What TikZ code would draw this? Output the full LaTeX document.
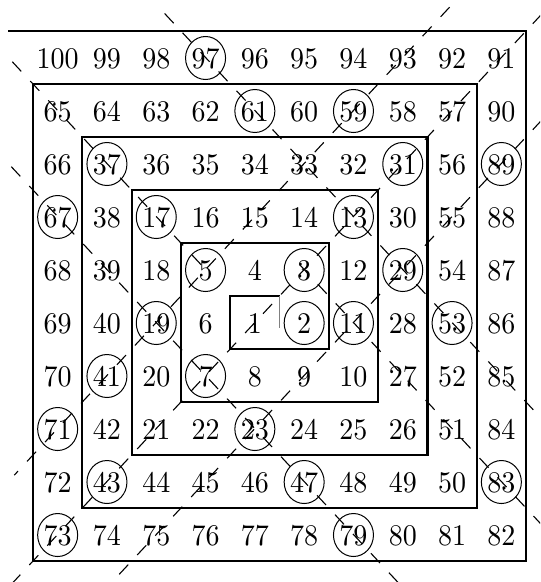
\documentclass[tikz,border=0pt]{standalone}
\usetikzlibrary{shapes.geometric}
\font\bignum=cmr10 at 28pt
\begin{document}
\begin{tikzpicture}[x=49.3pt,y=-53pt,
  num/.style={inner sep=0pt, font=\bignum, yshift=-1.5pt},
  pcirc/.style={draw, ellipse, inner sep=0pt, minimum width=40pt, minimum height=43pt, line width=1pt},
  spiral/.style={line width=2.2pt, line join=miter},
  spiralthin/.style={line width=1.3pt},
  spiralend/.style={line width=0.7pt, gray},
  diag/.style={line width=1.1pt, dash pattern=on 13.2pt off 13.2pt}]
\useasboundingbox (-1.1694,-1.0849) rectangle (9.784,9.896);
\clip (-1.1694,-1.0849) rectangle (9.784,9.896);
% numbers
\foreach \row [count=\r from 0] in {
  {100,99,98,97,96,95,94,93,92,91},
  {65,64,63,62,61,60,59,58,57,90},
  {66,37,36,35,34,33,32,31,56,89},
  {67,38,17,16,15,14,13,30,55,88},
  {68,39,18,5,4,3,12,29,54,87},
  {69,40,19,6,1,2,11,28,53,86},
  {70,41,20,7,8,9,10,27,52,85},
  {71,42,21,22,23,24,25,26,51,84},
  {72,43,44,45,46,47,48,49,50,83},
  {73,74,75,76,77,78,79,80,81,82}} {
  \foreach \n [count=\c from 0] in \row {
    \node[num] (n\n) at (\c,\r) {\scalebox{1}[1.07]{\n}};
  }
}
% prime circles
\foreach \p in {2,3,5,7,11,13,17,19,23,29,31,37,41,43,47,53,59,61,67,71,73,79,83,89,97} {
  \node[pcirc] (c\p) at ([yshift=1pt]n\p.center) {};
}
% spiral
\draw[spiralthin] (-1.0,-0.5) -- (-0.5,-0.5);
\draw[spiral] (-0.5,-0.5) -- (9.5,-0.5) -- (9.5,9.5) -- (-0.5,9.5) -- (-0.5,0.5)
  -- (8.5,0.5) -- (8.5,8.5) -- (0.5,8.5) -- (0.5,1.5) -- (7.5,1.5) -- (7.5,7.5)
  -- (1.5,7.5) -- (1.5,2.5) -- (6.5,2.5) -- (6.5,6.5) -- (2.5,6.5) -- (2.5,3.5)
  -- (5.5,3.5) -- (5.5,5.5) -- (3.5,5.5) -- (3.5,4.5) -- (4.5,4.5);
\draw[spiralend] (4.5,4.5) -- (4.5,5.1);
% diagonals
\draw[diag] (2.17,-0.83) -- (10.6,7.6);
\draw[diag] (-0.92,0.08) -- (2.95,3.95);
\draw[diag] (-0.94,2.06) -- (7.6,10.6);
\draw[diag] (4.91,3.91) -- (10.6,9.6);
\draw[diag] (7.95,-0.95) -- (-0.88,7.88);
\draw[diag] (9.82,-0.82) -- (-1.6,10.6);
\draw[diag] (9.82,1.18) -- (0.6,10.4);
\end{tikzpicture}
\end{document}
